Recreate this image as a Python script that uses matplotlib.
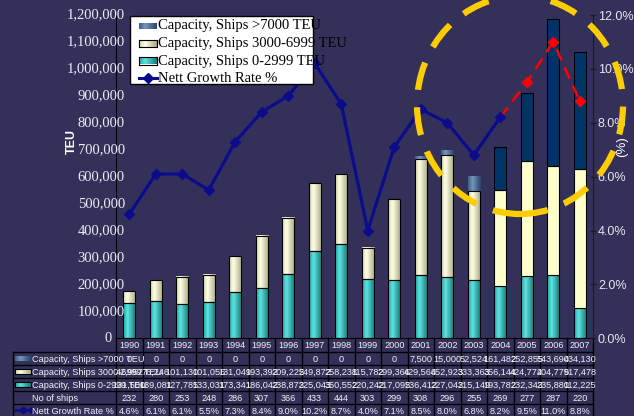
import numpy as np
import matplotlib
matplotlib.use("Agg")
import matplotlib.pyplot as plt
from matplotlib.colors import LinearSegmentedColormap
from matplotlib.patches import Rectangle, Ellipse
from matplotlib.lines import Line2D

years = list(range(1990, 2008))
cap_large = [0, 0, 0, 0, 0, 0, 0, 0, 0, 0, 0,
             7500, 15000, 52524, 161482, 252855, 543690, 434130]
cap_mid = [42952, 76246, 101130, 101056, 131049, 193392, 209225, 249872, 258238,
           115782, 299366, 429566, 452923, 333363, 356144, 424772, 404779, 517478]
cap_small = [131500, 139081, 127785, 133031, 173341, 186042, 238872, 325043, 350552,
             220242, 217095, 236412, 227043, 215149, 193782, 232343, 235880, 112225]
ships = [232, 280, 253, 248, 286, 307, 366, 433, 444, 303, 299, 308, 296, 255, 269, 277, 287, 220]
growth = [4.6, 6.1, 6.1, 5.5, 7.3, 8.4, 9.0, 10.2, 8.7, 4.0, 7.1, 8.5, 8.0, 6.8, 8.2, 9.5, 11.0, 8.8]

row_labels = ["Capacity, Ships >7000 TEU", "Capacity, Ships 3000-6999 TEU",
              "Capacity, Ships 0-2999 TEU", "No of ships", "Nett Growth Rate %"]
first_forecast = 14  # 2004 onwards drawn flat / in red

W, H = 634, 416
BG = '#33315a'
NAVY = '#0b0b8c'
SANS = 'Liberation Sans'
SERIF = 'Liberation Serif'

# axes box in pixels
AX_L, AX_R, AX_T, AX_B = 116, 593, 15, 338.3


def fx(px):
    return px / W


def fy(py):
    return 1 - py / H


def shade(cols):
    return LinearSegmentedColormap.from_list('', list(zip([0, 0.35, 1], cols)))


teal = shade(['#1fa5a3', '#5fe3df', '#127a78'])
cream = shade(['#d4d4a2', '#ffffe8', '#a9a982'])
steel = shade(['#3b5e88', '#7595bd', '#27446a'])
grad = np.linspace(0, 1, 64).reshape(1, -1)


def fill_gradient(ax, bars, cmap, upto=None):
    for i, b in enumerate(bars):
        if upto is not None and i >= upto:
            continue
        if b.get_height() <= 0:
            continue
        x0, y0 = b.get_x(), b.get_y()
        ax.imshow(grad, cmap=cmap, aspect='auto', interpolation='bilinear', zorder=2.5,
                  extent=(x0, x0 + b.get_width(), y0, y0 + b.get_height()))


fig = plt.figure(figsize=(W / 100, H / 100), dpi=100, facecolor=BG)
ax = fig.add_axes([fx(AX_L), fy(AX_B), (AX_R - AX_L) / W, (AX_B - AX_T) / H])
ax.set_facecolor(BG)

x = np.arange(len(years))
small = np.array(cap_small)
mid = np.array(cap_mid)
large = np.array(cap_large)
bw = 0.46

b_small = ax.bar(x, small, width=bw, facecolor='none', edgecolor='black', lw=0.8, zorder=3)
mid_fc = ['none'] * first_forecast + ['#ffffcc'] * (len(years) - first_forecast)
b_mid = ax.bar(x, mid, bottom=small, width=bw, color=mid_fc, edgecolor='black', lw=0.8, zorder=3)
large_fc = ['none'] * first_forecast + ['#003366'] * (len(years) - first_forecast)
large_ec = ['none'] * first_forecast + ['black'] * (len(years) - first_forecast)
b_large = ax.bar(x, large, bottom=small + mid, width=bw, color=large_fc,
                 edgecolor=large_ec, lw=0.8, zorder=3)
fill_gradient(ax, b_small, teal)
fill_gradient(ax, b_mid, cream, upto=first_forecast)
fill_gradient(ax, b_large, steel, upto=first_forecast)

ax.set_xlim(-0.5, len(years) - 0.5)
ax.set_ylim(0, 1200000)
ax.set_xticks([])
ax.set_yticks([])
for s in ['top', 'right']:
    ax.spines[s].set_visible(False)
ax.spines['left'].set_color('black')
ax.spines['bottom'].set_color('black')

# left value labels, sitting over the spine
ytrans = ax.get_yaxis_transform()
for v in range(0, 1200001, 100000):
    xpos = (125 - AX_L) / (AX_R - AX_L) if v else (112 - AX_L) / (AX_R - AX_L)
    ax.text(xpos, v, f"{v:,}", transform=ytrans, ha='right', va='center',
            family=SERIF, fontsize=10.5, color='#ececf2', clip_on=False, zorder=4)

# growth rate on the secondary axis
ax2 = ax.twinx()
ax2.set_ylim(0, 12)
ax2.plot(x[first_forecast:], growth[first_forecast:], color='red', lw=1.8,
         ls=(0, (5, 3)), zorder=2)
ax2.plot(x[first_forecast + 1:], growth[first_forecast + 1:], ls='none', marker='D',
         ms=5.5, color='red', zorder=3)
ax2.plot(x[:first_forecast + 1], growth[:first_forecast + 1], color=NAVY, lw=2.3,
         marker='D', ms=5.5, zorder=4)
ax2.set_yticks(np.arange(0, 12.1, 2))
ax2.set_yticklabels([f"{v:.1f}%" for v in np.arange(0, 12.1, 2)])
ax2.tick_params(axis='y', direction='inout', length=5, width=1, colors='#1a1a2a',
                labelcolor='#e6e6ee', labelsize=9, pad=1)
for lab in ax2.get_yticklabels():
    lab.set_family(SANS)
for s in ['top', 'left', 'bottom']:
    ax2.spines[s].set_visible(False)
ax2.spines['right'].set_color('#1a1a2a')

fig.text(fx(72), fy(141), 'TEU', rotation=90, color='white', weight='bold',
         fontsize=9, family=SANS, ha='center', va='center')
fig.text(fx(622), fy(147), '(%)', rotation=90, color='white',
         fontsize=9.5, family=SANS, ha='center', va='center')

# data table under the chart
xtrans = ax.get_xaxis_transform()


def ay(py):
    return (AX_B - py) / (AX_B - AX_T)


for i in range(len(years) + 1):
    ax.add_line(Line2D([i - 0.5, i - 0.5], [ay(338.3), ay(416)], transform=xtrans,
                       color='black', lw=1, clip_on=False))
for py in [352, 365, 378, 391, 404]:
    fig.add_artist(Line2D([fx(13), fx(AX_R)], [fy(py), fy(py)], color='black', lw=1))
fig.add_artist(Line2D([fx(13), fx(13)], [fy(352), fy(416)], color='black', lw=1))

txt = dict(family=SANS, fontsize=6.6, color='#f2f2f2', ha='center', va='center')
for i, yr in enumerate(years):
    ax.text(i, ay(345), str(yr), transform=xtrans, clip_on=False, **txt)

row_y = [359.5, 372.5, 385.5, 398.5, 411]
for label, py in zip(row_labels, row_y):
    fig.text(fx(32), fy(py), label, family=SANS, fontsize=6.6, color='#f2f2f2',
             ha='left', va='center')

rows = [
    ["0" if v == 0 else f"{v:,}" for v in cap_large],
    [f"{v:,}" for v in cap_mid],
    [f"{v:,}" for v in cap_small],
    [str(v) for v in ships],
    [f"{v:.1f}%" for v in growth],
]
for vals, py in zip(rows, row_y):
    for i, s in enumerate(vals):
        ax.text(i, ay(py), s, transform=xtrans, clip_on=False, **txt)


def swatch(px, py, w, h, cmap, edge):
    sa = fig.add_axes([fx(px), fy(py + h / 2), w / W, h / H], zorder=9)
    sa.imshow(grad, cmap=cmap, aspect='auto', interpolation='bilinear')
    sa.set_xticks([])
    sa.set_yticks([])
    for s in sa.spines.values():
        s.set_color(edge)
        s.set_linewidth(0.8 if edge != 'none' else 0)


# table keys
swatch(15, row_y[0] - 1, 16, 5, steel, 'none')
swatch(15, row_y[1] - 1, 16, 5, cream, 'black')
swatch(15, row_y[2] - 1, 16, 5, teal, 'black')
fig.add_artist(Line2D([fx(15), fx(31)], [fy(row_y[4] - 1)] * 2, color=NAVY, lw=1.8,
                      marker='D', ms=3, markevery=[1]))
fig.add_artist(Line2D([fx(23)], [fy(row_y[4] - 1)], color=NAVY, marker='D', ms=3.5))

# legend box
fig.add_artist(Rectangle((fx(130), fy(84)), 183 / W, 68.3 / H, transform=fig.transFigure,
                         facecolor='white', edgecolor='black', lw=1, zorder=8))
leg_y = [26, 43.5, 61, 78]
leg_labels = ["Capacity, Ships >7000 TEU", "Capacity, Ships 3000-6999 TEU",
              "Capacity, Ships 0-2999 TEU", "Nett Growth Rate %"]
for lab, py in zip(leg_labels, leg_y):
    fig.text(fx(158), fy(py), lab, family=SERIF, fontsize=10.5, color='black',
             ha='left', va='center', zorder=9)
swatch(139, leg_y[0], 18, 7, steel, 'none')
swatch(139, leg_y[1], 18, 7, cream, 'black')
swatch(139, leg_y[2], 18, 7, teal, 'black')
fig.add_artist(Line2D([fx(139), fx(157)], [fy(leg_y[3])] * 2, color=NAVY, lw=2.2, zorder=9))
fig.add_artist(Line2D([fx(148)], [fy(leg_y[3])], color=NAVY, marker='D', ms=5, zorder=9))

# highlight ring around the recent years
fig.add_artist(Ellipse((fx(520), fy(105)), 206 / W, 218 / H, transform=fig.transFigure,
                       fill=False, edgecolor='#ffcc00', lw=4.5, ls=(0, (4.5, 2.8)), zorder=10))

fig.savefig("out.png", dpi=100, facecolor=BG)
